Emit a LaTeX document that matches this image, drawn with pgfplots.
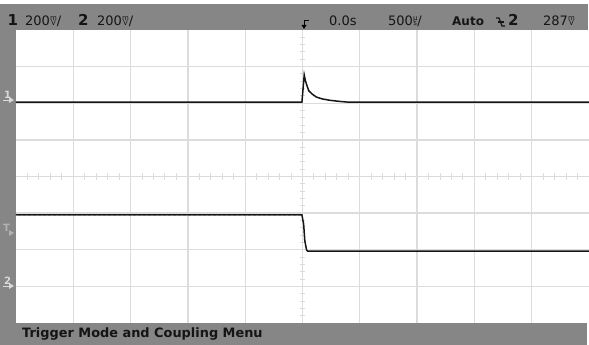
\documentclass[border=0pt]{standalone}
\usepackage{pgfplots}
\pgfplotsset{compat=1.18}
\usepackage{fontspec}
\setmainfont{DejaVu Sans}
\definecolor{bargray}{HTML}{868686}
\definecolor{gridgray}{HTML}{DCDCDC}
\definecolor{txt}{HTML}{151515}
\newcommand{\stk}[2]{{\fontsize{7}{7}\selectfont
 \setbox0=\hbox{#1}\setbox2=\hbox{#2}%
 \ifdim\wd0>\wd2 \dimen0=\wd0 \else \dimen0=\wd2 \fi
 \hbox to\dimen0{\hss\raise5.3pt\box0\hss}\kern-\dimen0
 \hbox to\dimen0{\hss\box2\hss}}}
\begin{document}
\begin{tikzpicture}
\useasboundingbox (0pt,0pt) rectangle (589pt,345pt);
% frame bars
\fill[bargray] (0pt,22pt) rectangle (16pt,341pt);
\fill[bargray] (0pt,315pt) rectangle (588pt,341pt);
\fill[bargray] (0pt,0pt) rectangle (587pt,22pt);
\begin{axis}[
  at={(16pt,22pt)}, anchor=south west,
  scale only axis, width=573pt, height=293pt,
  xmin=-5, xmax=5, ymin=-4, ymax=4,
  axis line style={draw=none},
  xtick={-4,...,4}, ytick={-3,...,3},
  xticklabels={}, yticklabels={},
  major tick length=0pt,
  grid=major,
  grid style={gridgray, line width=1.3pt},
  clip=true,
]
% centre axes with minor ticks
\pgfplotsinvokeforeach{-4.8,-4.6,...,4.85}{
  \draw[gridgray, line width=1pt] (axis cs:#1,-0.09) -- (axis cs:#1,0.09);
}
\pgfplotsinvokeforeach{-3.8,-3.6,...,3.85}{
  \draw[gridgray, line width=1pt] (axis cs:-0.05,#1) -- (axis cs:0.05,#1);
}
% channel 1
\addplot[txt, line width=1.5pt] coordinates {
(-5,2.03) (-0.01,2.03) (0.01,2.4) (0.03,2.77) (0.05,2.62) (0.08,2.47)
(0.11,2.34) (0.17,2.25) (0.24,2.17) (0.34,2.12) (0.48,2.08) (0.65,2.05)
(0.8,2.03) (5,2.03)};
% channel 2
\addplot[txt, line width=1.5pt] coordinates {
(-5,-1.05) (-0.01,-1.05) (0.02,-1.3) (0.04,-1.75) (0.07,-2.0) (0.09,-2.04) (5,-2.04)};
\addplot[gray, line width=0.8pt, dash pattern=on 2pt off 3pt] coordinates {(-5,-1.05) (-0.05,-1.05)};
\end{axis}
% top bar text
\node[anchor=base west, inner sep=0pt, txt, font=\fontsize{15}{15}\selectfont\bfseries] at (7.5pt,319pt) {1};
\node[anchor=base west, inner sep=0pt, txt, font=\fontsize{13}{14}\selectfont] at (25pt,319pt) {200\stk{m}{V}/};
\node[anchor=base west, inner sep=0pt, txt, font=\fontsize{15}{15}\selectfont\bfseries] at (78pt,319pt) {2};
\node[anchor=base west, inner sep=0pt, txt, font=\fontsize{13}{14}\selectfont] at (97pt,319pt) {200\stk{m}{V}/};
% trigger position symbol
\draw[black, line width=1pt] (309pt,324pt) -- (304pt,324pt) -- (304pt,319pt);
\fill[black] (301.5pt,320pt) -- (306.5pt,320pt) -- (304pt,316pt) -- cycle;
\node[anchor=base west, inner sep=0pt, txt, font=\fontsize{13}{14}\selectfont] at (329pt,319pt) {0.0s};
\node[anchor=base west, inner sep=0pt, txt, font=\fontsize{13}{14}\selectfont] at (388pt,319pt) {500\stk{µ}{s}/};
\node[anchor=base west, inner sep=0pt, txt, font=\fontsize{12}{13}\selectfont\bfseries] at (452pt,319pt) {Auto};
% slope symbol
\draw[txt, line width=1.2pt] (496pt,327pt) -- (499pt,327pt) -- (502pt,319pt) -- (505pt,319pt);
\draw[txt, line width=1.2pt] (497.5pt,323pt) -- (503.5pt,323pt);
\node[anchor=base west, inner sep=0pt, txt, font=\fontsize{15}{15}\selectfont\bfseries] at (508pt,319pt) {2};
\node[anchor=base west, inner sep=0pt, txt, font=\fontsize{13}{14}\selectfont] at (543pt,319pt) {287\stk{m}{V}};
% left markers
\node[anchor=base west, inner sep=0pt, white!85!black, font=\fontsize{10}{10}\selectfont\bfseries] at (4pt,246pt) {1};
\fill[white!85!black] (9pt,248pt) -- (14pt,245pt) -- (9pt,242pt) -- cycle;
\draw[white!85!black, line width=0.8pt] (3pt,245pt) -- (10pt,245pt);
\node[anchor=base west, inner sep=0pt, white!70!black, font=\fontsize{10}{10}\selectfont\bfseries] at (3pt,113pt) {T};
\fill[white!70!black] (9pt,115pt) -- (14pt,112pt) -- (9pt,109pt) -- cycle;
\node[anchor=base west, inner sep=0pt, white!85!black, font=\fontsize{10}{10}\selectfont\bfseries] at (4pt,60pt) {2};
\fill[white!85!black] (9pt,62pt) -- (14pt,59pt) -- (9pt,56pt) -- cycle;
\draw[white!85!black, line width=0.8pt] (3pt,59pt) -- (10pt,59pt);
% bottom bar text
\node[anchor=base west, inner sep=0pt, txt, font=\fontsize{12.9}{13}\selectfont\bfseries] at (22pt,7pt) {Trigger Mode and Coupling Menu};
\end{tikzpicture}
\end{document}
